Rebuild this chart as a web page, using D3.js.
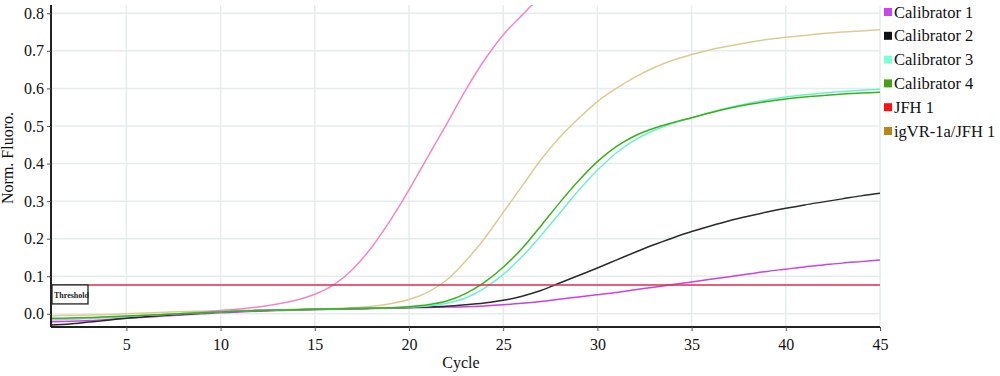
<!DOCTYPE html>
<html><head><meta charset="utf-8">
<script src="https://cdn.jsdelivr.net/npm/d3@7"></script>
<style>body{margin:0;background:#fff}svg{display:block}</style>
</head><body>
<svg id="c" width="1000" height="376"></svg>
<script>
const cycles = [1,2,3,4,5,6,7,8,9,10,11,12,13,14,15,16,17,18,19,20,21,22,23,24,25,26,27,28,29,30,31,32,33,34,35,36,37,38,39,40,41,42,43,44,45];
const xTicks = [5,10,15,20,25,30,35,40,45];
const yTicks = [0.0,0.1,0.2,0.3,0.4,0.5,0.6,0.7,0.8];
const threshold = 0.077;

const seriesNames = ["Calibrator 1","Calibrator 2","Calibrator 3","Calibrator 4","JFH 1","igVR-1a/JFH 1"];
const legendColors = ["#cc44ee","#111111","#7fffd4","#44a010","#ff1111","#b8861c"];
const lineColors = ["#c545e0","#2a2a2a","#6ff0cc","#3cb01c","#ee88c8","#dccb92"];

const calibrator1 = [-0.021,-0.020,-0.018,-0.015,-0.012,-0.009,-0.006,-0.003,0.000,0.003,0.005,0.007,0.009,0.010,0.011,0.012,0.013,0.014,0.015,0.016,0.017,0.018,0.019,0.021,0.024,0.028,0.033,0.039,0.045,0.051,0.057,0.064,0.071,0.078,0.085,0.092,0.099,0.106,0.113,0.119,0.125,0.130,0.135,0.139,0.143];
const calibrator2 = [-0.030,-0.027,-0.022,-0.017,-0.012,-0.008,-0.004,-0.001,0.002,0.005,0.007,0.009,0.010,0.011,0.012,0.013,0.014,0.015,0.016,0.017,0.018,0.020,0.024,0.029,0.036,0.047,0.062,0.082,0.102,0.122,0.143,0.164,0.184,0.202,0.219,0.234,0.248,0.260,0.271,0.281,0.290,0.298,0.306,0.314,0.321];
const calibrator3 = [-0.014,-0.013,-0.011,-0.009,-0.007,-0.004,-0.002,0.001,0.003,0.005,0.007,0.009,0.010,0.011,0.012,0.013,0.014,0.015,0.016,0.018,0.021,0.028,0.042,0.068,0.105,0.152,0.208,0.268,0.328,0.382,0.428,0.463,0.488,0.507,0.521,0.536,0.549,0.560,0.569,0.577,0.583,0.588,0.592,0.595,0.598];
const calibrator4 = [-0.012,-0.011,-0.010,-0.008,-0.006,-0.004,-0.002,0.001,0.003,0.005,0.007,0.009,0.010,0.011,0.012,0.013,0.014,0.015,0.016,0.019,0.024,0.034,0.054,0.084,0.124,0.174,0.234,0.296,0.354,0.405,0.445,0.474,0.494,0.509,0.522,0.535,0.547,0.557,0.565,0.572,0.577,0.581,0.585,0.588,0.590];
const jfh1 = [-0.016,-0.014,-0.012,-0.010,-0.008,-0.005,-0.002,0.001,0.005,0.009,0.013,0.018,0.026,0.036,0.052,0.077,0.118,0.176,0.248,0.330,0.418,0.505,0.595,0.675,0.742,0.795,0.845,0.885,0.915,0.940,0.958,0.972,0.982,0.990,0.995,0.998,1.000,1.001,1.002,1.003,1.004,1.005,1.006,1.007,1.008];
const igvr = [-0.005,-0.004,-0.003,-0.002,0.000,0.002,0.004,0.006,0.007,0.008,0.009,0.010,0.011,0.012,0.013,0.014,0.016,0.020,0.027,0.038,0.058,0.090,0.140,0.200,0.270,0.340,0.410,0.470,0.520,0.565,0.600,0.630,0.655,0.675,0.690,0.703,0.713,0.722,0.730,0.736,0.741,0.746,0.750,0.753,0.756];

const seriesValues = [calibrator1, calibrator2, calibrator3, calibrator4, jfh1, igvr];
const drawOrder = [5,4,0,1,2,3];

const svg = d3.select("#c");
const x = d3.scaleLinear().domain([1,45]).range([51,880]);
const y = d3.scaleLinear().domain([-0.035,0.822]).range([327,5]);
const serif = "'Liberation Serif','DejaVu Serif',serif";

// grid
svg.append("g").selectAll("line").data(xTicks).join("line")
  .attr("x1",d=>x(d)).attr("x2",d=>x(d)).attr("y1",5).attr("y2",327)
  .attr("stroke","#e6ecec").attr("stroke-width",1.5);
svg.append("g").selectAll("line").data(yTicks).join("line")
  .attr("x1",51).attr("x2",880).attr("y1",d=>y(d)).attr("y2",d=>y(d))
  .attr("stroke","#e6ecec").attr("stroke-width",1.5);

// clip
svg.append("clipPath").attr("id","clip").append("rect")
  .attr("x",51).attr("y",5).attr("width",829).attr("height",322);

const line = d3.line().x((d,i)=>x(cycles[i])).y(d=>y(d)).curve(d3.curveMonotoneX);
const lg = svg.append("g").attr("clip-path","url(#clip)");
drawOrder.forEach(k=>{
  lg.append("path").attr("d",line(seriesValues[k])).attr("fill","none")
    .attr("stroke",lineColors[k]).attr("stroke-width",1.5);
});

// threshold
svg.append("line").attr("x1",51).attr("x2",880).attr("y1",y(threshold)).attr("y2",y(threshold))
  .attr("stroke","#e3284f").attr("stroke-width",1.5);
svg.append("rect").attr("x",52).attr("y",y(threshold)).attr("width",36).attr("height",19)
  .attr("fill","#fff").attr("stroke","#222").attr("stroke-width",1.3);
svg.append("text").attr("x",54).attr("y",y(threshold)+13).text("Threshold")
  .attr("font-family",serif).attr("font-size",8).attr("font-weight","bold").attr("fill","#222");

// axes
const xAxis = svg.append("g").attr("transform","translate(0,327)")
  .call(d3.axisBottom(x).tickValues(xTicks).tickSize(4).tickSizeOuter(0).tickPadding(8));
const yAxis = svg.append("g").attr("transform","translate(51,0)")
  .call(d3.axisLeft(y).tickValues(yTicks).tickFormat(d3.format(".1f")).tickSize(4).tickSizeOuter(0).tickPadding(3));
[xAxis,yAxis].forEach(a=>{
  a.select(".domain").attr("stroke","#222").attr("stroke-width",2);
  a.selectAll(".tick line").attr("stroke","#555");
  a.selectAll("text").attr("font-family",serif).attr("font-size",16).attr("fill","#111");
});
xAxis.select(".domain").attr("d","M51,0H880");
yAxis.select(".domain").attr("d","M0,5V327");

svg.append("text").attr("x",461).attr("y",368).attr("text-anchor","middle").text("Cycle")
  .attr("font-family",serif).attr("font-size",16).attr("fill","#111");
svg.append("text").attr("transform","translate(13,158) rotate(-90)").attr("text-anchor","middle")
  .text("Norm. Fluoro.").attr("font-family",serif).attr("font-size",16).attr("fill","#111");

// legend
const leg = svg.append("g").selectAll("g").data(seriesNames).join("g")
  .attr("transform",(d,i)=>`translate(884,${12+i*23.8})`);
leg.append("rect").attr("x",0).attr("y",-4).attr("width",8).attr("height",8).attr("fill",(d,i)=>legendColors[i]);
leg.append("text").attr("x",10).attr("y",5.5).text(d=>d)
  .attr("font-family",serif).attr("font-size",16.5).attr("fill","#111");
</script>
</body></html>
